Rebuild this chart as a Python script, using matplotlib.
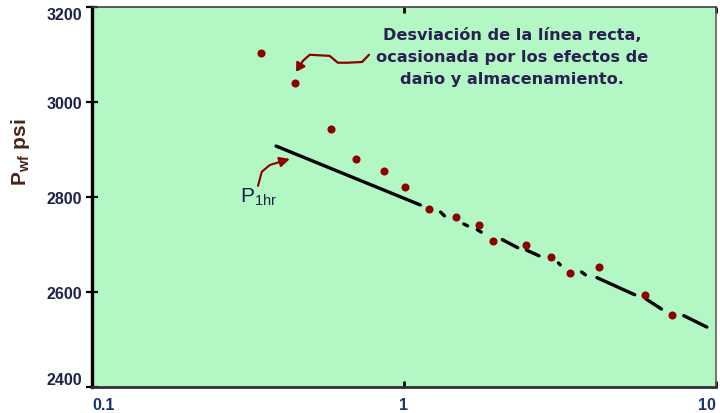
import matplotlib
matplotlib.use("Agg")
import matplotlib.pyplot as plt
from matplotlib.path import Path
from matplotlib.patches import FancyArrowPatch

# Measured well pressure vs. shut-in time
t_hr = [0.349, 0.447, 0.585, 0.703, 0.865, 1.007, 1.204, 1.47, 1.744, 1.927,
        2.455, 2.955, 3.41, 4.22, 5.94, 7.26]
pwf_psi = [3103, 3040, 2943, 2880, 2855, 2821, 2775, 2758, 2741, 2707,
           2699, 2674, 2640, 2653, 2594, 2552]

# Semilog straight-line segments (start/end of each visible piece)
seg_t0 = [0.389, 1.311, 1.556, 1.719, 2.068, 2.472, 3.13, 3.713, 4.16, 5.98, 7.90]
seg_t1 = [1.129, 1.349, 1.601, 1.769, 2.318, 2.712, 3.17, 3.82, 5.50, 6.70, 9.37]
seg_p0 = [2907, 2768, 2743, 2731, 2710, 2688, 2661, 2642, 2630, 2585, 2550]
seg_p1 = [2783, 2760, 2739, 2726, 2693, 2676, 2657, 2636, 2594, 2564, 2526]

x_ticks = [0.1, 1, 10]
x_labels = ["0.1", "1", "10"]
y_ticks = [2400, 2600, 2800, 3000, 3200]

BG = "#B2F7C4"
RED = "#8E0000"
TXT = "#1E2148"
NOTE = "#2A2052"
FONT = "Liberation Sans"

fig = plt.figure(figsize=(7.2, 4.14), dpi=100)
ax = fig.add_axes([0.128, 0.063, 0.866, 0.918])
ax.set_facecolor(BG)
ax.set_xscale("log")
ax.set_xlim(0.1, 10)
ax.set_ylim(2400, 3200)

for a, b, c, d in zip(seg_t0, seg_t1, seg_p0, seg_p1):
    ax.plot([a, b], [c, d], color="black", lw=2.4, solid_capstyle="round", zorder=3)

ax.plot(t_hr, pwf_psi, linestyle="none", marker="o", ms=4.8, color=RED,
        mec=RED, zorder=4)

# axes styling
ax.spines["left"].set_linewidth(2.4)
ax.spines["left"].set_color("black")
ax.spines["bottom"].set_linewidth(2.0)
ax.spines["bottom"].set_color("#303030")
ax.spines["top"].set_linewidth(1.2)
ax.spines["top"].set_color("#404040")
ax.spines["right"].set_linewidth(1.2)
ax.spines["right"].set_color("#606060")

ax.set_xticks(x_ticks)
ax.set_xticklabels(x_labels)
ax.xaxis.set_minor_locator(matplotlib.ticker.NullLocator())
ax.set_yticks(y_ticks)
ax.set_yticklabels([str(v) for v in y_ticks])
ax.tick_params(axis="x", which="major", direction="in", top=True, length=4,
               width=2, pad=7, labelsize=11.5, labelcolor="#1C3470")
ax.tick_params(axis="y", which="major", direction="inout", length=8,
               width=1.6, pad=3, labelsize=11.5, labelcolor=TXT)
for lab in ax.get_xticklabels() + ax.get_yticklabels():
    lab.set_fontfamily(FONT)
    lab.set_fontweight("bold")
xl = ax.get_xticklabels()
xl[0].set_horizontalalignment("left")
xl[-1].set_horizontalalignment("right")
yl = ax.get_yticklabels()
yl[0].set_verticalalignment("bottom")
yl[-1].set_verticalalignment("top")

ax.set_ylabel(r"P$_{\mathregular{wf}}$ psi", fontsize=15, fontweight="bold",
              family=FONT, color="#4A2418")
ax.yaxis.set_label_coords(-0.097, 0.62)

# annotations
ax.text(0.673, 0.948,
        "Desviación de la línea recta,\nocasionada por los efectos de\ndaño y almacenamiento.",
        transform=ax.transAxes, ha="center", va="top", fontsize=11.6,
        fontweight="bold", family="DejaVu Sans", color=NOTE, linespacing=1.6)
ax.text(0.237, 0.487, r"P$_{\mathregular{1hr}}$", transform=ax.transAxes,
        ha="left", va="baseline", fontsize=15, family=FONT, color=TXT)

wiggle = Path([(0.444, 0.874), (0.433, 0.855), (0.410, 0.853), (0.394, 0.853),
               (0.381, 0.871), (0.349, 0.874), (0.338, 0.858), (0.327, 0.829)])
ax.add_patch(FancyArrowPatch(path=wiggle, transform=ax.transAxes,
                             arrowstyle="-|>,head_length=5,head_width=3",
                             color=RED, lw=1.6, zorder=5))
hook = Path([(0.266, 0.529), (0.272, 0.566), (0.285, 0.584), (0.317, 0.600)])
ax.add_patch(FancyArrowPatch(path=hook, transform=ax.transAxes,
                             arrowstyle="-|>,head_length=6,head_width=3",
                             color=RED, lw=1.5, zorder=5))

fig.savefig("out.png", dpi=100)
